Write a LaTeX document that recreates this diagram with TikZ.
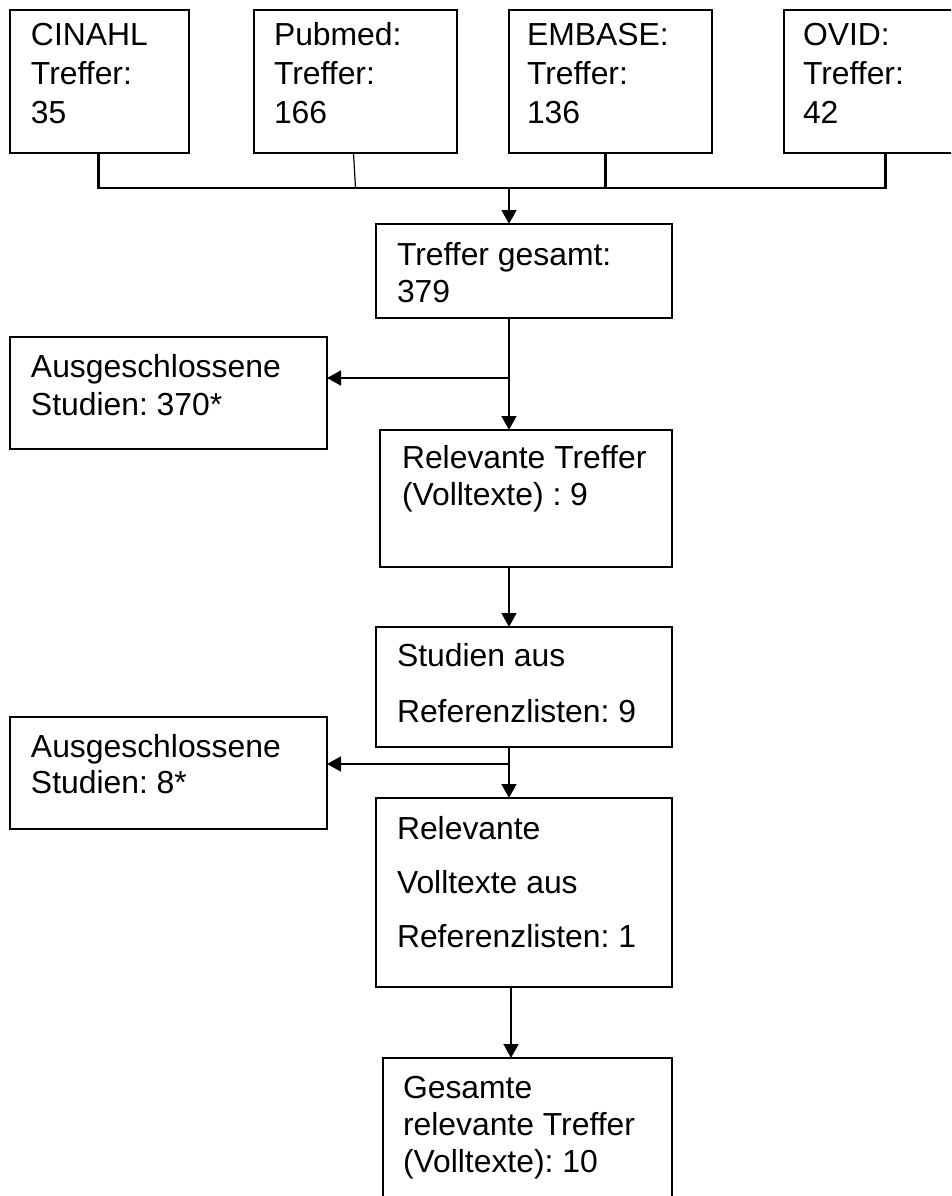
\documentclass[tikz,border=0pt]{standalone}
\usepackage{fontspec}
\setmainfont{Liberation Sans}
\usetikzlibrary{arrows.meta}
\tikzset{
  boxnode/.style={draw, line width=1.5pt, inner sep=0pt, outer sep=0pt, anchor=north west},
  txt/.style={inner sep=0pt, outer sep=0pt, anchor=base west, align=left},
  conn/.style={line width=2pt},
  thinconn/.style={line width=0.9pt},
  arr/.style={line width=2pt, -{Triangle[length=10.5pt,width=11pt]}},
}
\newcommand{\fs}[1]{\fontsize{23.9pt}{#1}\selectfont\frenchspacing}
\begin{document}
\begin{tikzpicture}[x=0.75pt, y=-0.75pt]
\clip (0,0) rectangle (951,1196);
% boxes
\node[boxnode, minimum width=134.25pt, minimum height=107.25pt] (cinahl) at (10,10) {};
\node[boxnode, minimum width=152.25pt, minimum height=107.25pt] (pubmed) at (254,10) {};
\node[boxnode, minimum width=152.25pt, minimum height=107.25pt] (embase) at (509,10) {};
\node[boxnode, minimum width=142.5pt, minimum height=107.25pt] (ovid) at (784,10) {};
\node[boxnode, minimum width=222pt, minimum height=70.5pt] (total) at (376,224) {};
\node[boxnode, minimum width=237.75pt, minimum height=84pt] (excl1) at (10,337) {};
\node[boxnode, minimum width=219pt, minimum height=102.75pt] (relev) at (380,430) {};
\node[boxnode, minimum width=222pt, minimum height=90pt] (studien) at (376,627) {};
\node[boxnode, minimum width=237.75pt, minimum height=84pt] (excl2) at (10,717) {};
\node[boxnode, minimum width=222pt, minimum height=141.75pt] (relvoll) at (376,798) {};
\node[boxnode, minimum width=216.75pt, minimum height=120pt] (final) at (383,1058) {};
% texts (anchored at the baseline of their last line)
\node[txt, font=\fs{29.25pt}] (cinahlT) at (31,123) {CINAHL\\Treffer:\\35};
\node[txt, font=\fs{29.25pt}] (pubmedT) at (274,123) {Pubmed:\\Treffer:\\166};
\node[txt, font=\fs{29.25pt}] (embaseT) at (527,123) {EMBASE:\\Treffer:\\136};
\node[txt, font=\fs{29.25pt}] (ovidT) at (803,123) {OVID:\\Treffer:\\42};
\node[txt, font=\fs{27.75pt}] (totalT) at (397,302) {Treffer gesamt:\\379};
\node[txt, font=\fs{28.5pt}] (excl1T) at (31,415) {Ausgeschlossene\\Studien: 370*};
\node[txt, font=\fs{27.75pt}] (relevT) at (402,505) {Relevante Treffer\\(Volltexte) : 9};
\node[txt, font=\fs{42pt}] (studienT) at (397,722) {Studien aus\\Referenzlisten: 9};
\node[txt, font=\fs{27pt}] (excl2T) at (31,793) {Ausgeschlossene\\Studien: 8*};
\node[txt, font=\fs{40.5pt}] (relvollT) at (397,947) {Relevante\\Volltexte aus\\Referenzlisten: 1};
\node[txt, font=\fs{27.75pt}] (finalT) at (403,1172) {Gesamte\\relevante Treffer\\(Volltexte): 10};
% connectors
\coordinate (bus) at (509,188);
\coordinate (br1) at (509,378);
\coordinate (br2) at (509,764);
\draw[conn] ([xshift=-1pt]cinahl.south) -- ([xshift=-1pt]cinahl.south |- bus);
\draw[thinconn] ([xshift=-1.5pt]pubmed.south) -- (pubmed.south |- bus);
\draw[conn] ([xshift=-4pt]embase.south) -- ([xshift=-4pt]embase.south |- bus);
\draw[conn] ([xshift=5pt]ovid.south) -- ([xshift=5pt]ovid.south |- bus);
\draw[conn, line cap=rect] ([xshift=-1pt]cinahl.south |- bus) -- ([xshift=5pt]ovid.south |- bus);
\draw[arr] (bus) -- (bus |- total.north);
\draw[conn] (bus |- total.south) -- (br1);
\draw[arr] (br1) -- (excl1.east |- br1);
\draw[arr] (br1) -- (bus |- relev.north);
\draw[arr] (bus |- relev.south) -- (bus |- studien.north);
\draw[conn] (bus |- studien.south) -- (br2);
\draw[arr] (br2) -- (excl2.east |- br2);
\draw[arr] (br2) -- (bus |- relvoll.north);
\draw[arr] ([xshift=1.5pt]bus |- relvoll.south) -- ([xshift=1.5pt]bus |- final.north);
\end{tikzpicture}
\end{document}
